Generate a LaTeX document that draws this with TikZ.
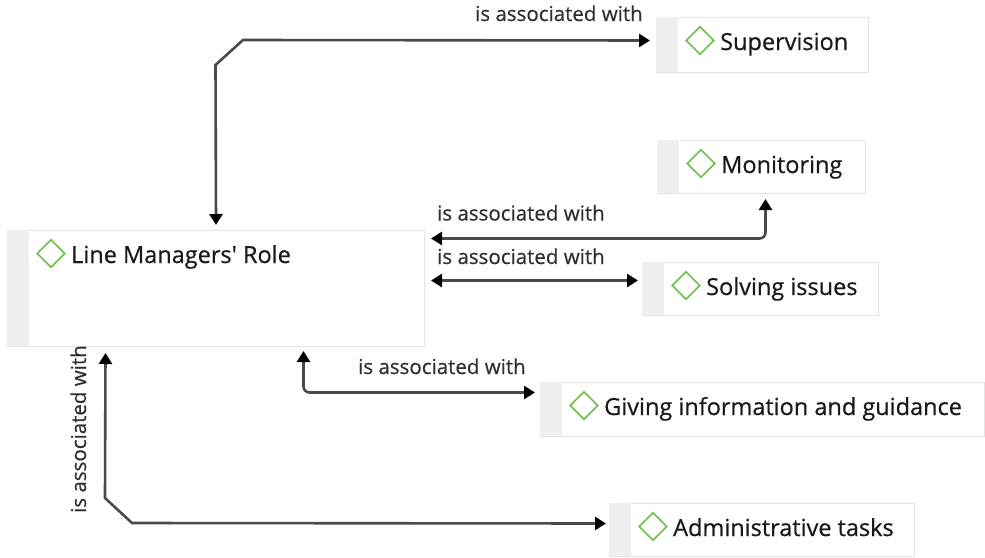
\documentclass[tikz,border=0pt]{standalone}
\usepackage{fontspec}
\setmainfont{Open Sans}
\newfontfamily\nodefont[FakeBold=0.6]{Open Sans}
\newfontfamily\labfont[FakeBold=0.4]{Open Sans}
\usetikzlibrary{arrows.meta,shapes.geometric}
\definecolor{stripc}{HTML}{EFEFEF}
\definecolor{edgec}{HTML}{E4E4E4}
\definecolor{dgreen}{HTML}{6CC04A}
\definecolor{linec}{HTML}{4A4A4A}
\definecolor{txt}{HTML}{1A1A1A}
\definecolor{lbl}{HTML}{2E2E2E}
\tikzset{
 cbox/.style={draw=edgec, fill=white, line width=1, inner sep=0, anchor=north west},
 cstrip/.style={fill=stripc, draw=none, inner sep=0, minimum width=22, anchor=north west},
 gem/.style={diamond, draw=dgreen, line width=1.6, minimum width=28, minimum height=28, inner sep=0},
 ctext/.style={anchor=base west, inner sep=0, text=txt, font=\nodefont\fontsize{23.5}{28}\selectfont},
 lab/.style={anchor=base west, inner sep=0, text=lbl, font=\labfont\fontsize{20.5}{24}\selectfont},
 conn/.style={draw=linec, line width=2.6, {Triangle[length=11pt,width=13pt,color=black]}-{Triangle[length=11pt,width=13pt,color=black]}}
}
\newcommand\conceptbox[6]{%
 \node[cbox, minimum width=#4, minimum height=#5] (#1) at (#2,#3) {};
 \node[cstrip, minimum height=#5] at (#1.north west) {};
 \node[gem] (#1-g) at (#2+44,#3+23.5) {};
 \node[ctext] (#1-t) at (#2+64,#3+33) {#6};
}
\begin{document}
\begin{tikzpicture}[x=1pt,y=-1pt]
\useasboundingbox (0,0) rectangle (985,557);
\conceptbox{main}{7}{230}{417}{116}{Line Managers' Role}
\conceptbox{sup}{656}{17}{212}{55}{Supervision}
\conceptbox{mon}{657}{140}{208}{53}{Monitoring}
\conceptbox{sol}{642}{262}{236}{53}{Solving issues}
\conceptbox{giv}{540}{382}{444}{54}{Giving information and guidance}
\conceptbox{adm}{609}{503}{305}{53}{Administrative tasks}

\draw[conn] ([yshift=5]main.north) -- (215.5,65) -- (243,40) -- ([xshift=-6,yshift=4.5]sup.west);
\draw[conn, rounded corners=6] ([xshift=4,yshift=-5]mon.south) |- ([xshift=6,yshift=50]main.east);
\draw[conn] ([xshift=6,yshift=8]main.east) -- ([xshift=-4,yshift=8.5]sol.west);
\draw[conn, rounded corners=6] ([xshift=87.5,yshift=-4]main.south) |- ([xshift=-5,yshift=17]giv.west);
\draw[conn] ([xshift=-110.5,yshift=-6]main.south) -- (105,498) -- (132,523) -- ([xshift=-3,yshift=6.5]adm.west);

\node[lab] (l1) at (475,21) {is associated with};
\node[lab] (l2) at (437,220.5) {is associated with};
\node[lab] (l3) at (437,264) {is associated with};
\node[lab] (l4) at (358,374) {is associated with};
\node[lab, rotate=90] (l5) at (86,513) {is associated with};
\end{tikzpicture}
\end{document}
